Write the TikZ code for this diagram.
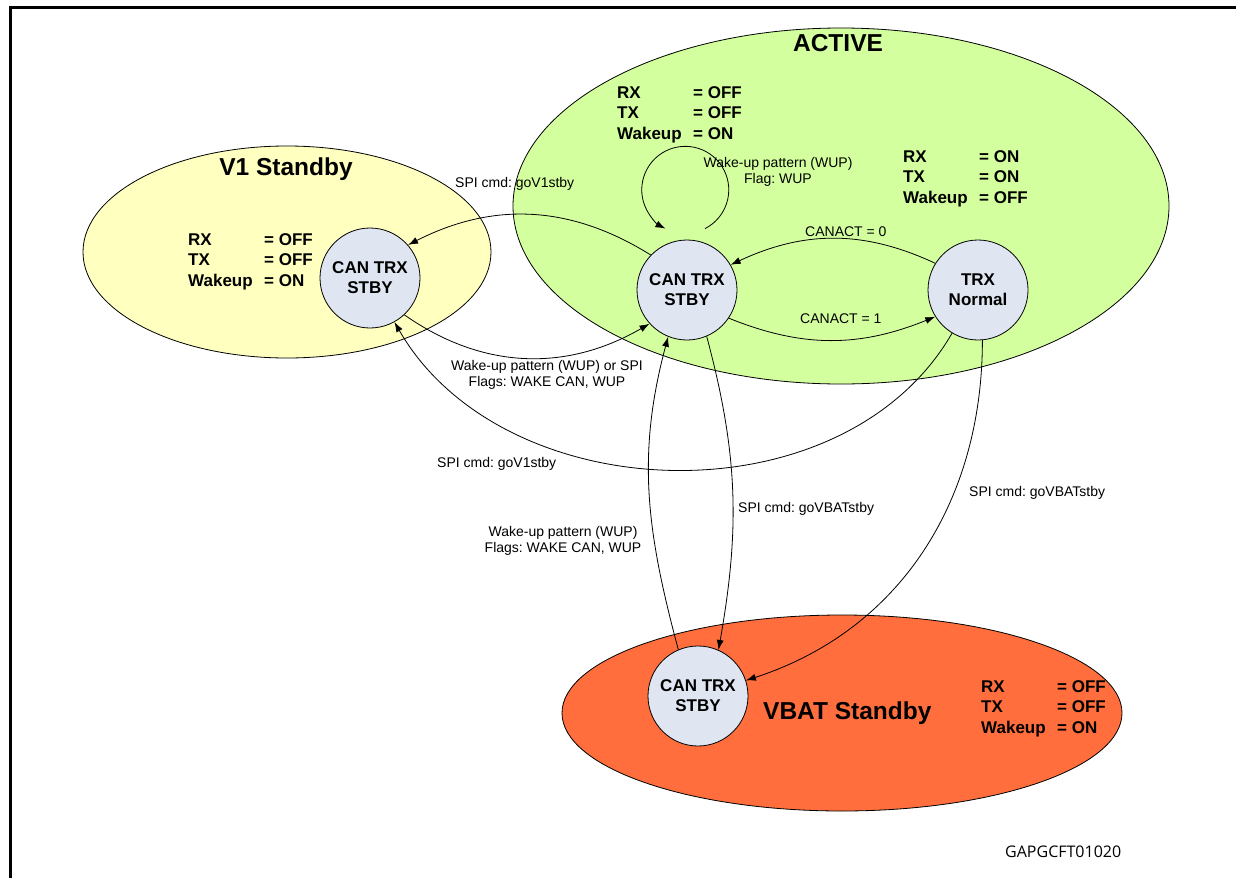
\documentclass[tikz,border=0pt]{standalone}
\usepackage{fontspec}
\setmainfont{Liberation Sans}
\newfontfamily\tagfont{Open Sans}
\usepackage{tikz}
\usetikzlibrary{arrows.meta}
\frenchspacing

\definecolor{activegreen}{RGB}{212,255,158}
\definecolor{v1yellow}{RGB}{255,255,192}
\definecolor{vbatorange}{RGB}{255,110,60}
\definecolor{stbyblue}{RGB}{224,230,241}

% RX / TX / Wakeup table of a mode
\newcommand{\modetab}[3]{\makebox[76pt][l]{RX}= #1\\\makebox[76pt][l]{TX}= #2\\\makebox[76pt][l]{Wakeup}= #3}

\begin{document}
\begin{tikzpicture}[x=1pt, y=1pt,
		state/.style={circle, draw, line width=0.8pt, fill=stbyblue, minimum size=100pt, inner sep=0pt, align=center, font=\bfseries\fontsize{17}{20}\selectfont},
		trans/.style={line width=0.8pt, -{Latex[length=10pt,width=7pt]}},
		lbl/.style={font=\fontsize{14}{16.5}\selectfont, anchor=base, align=center, inner sep=0pt},
		tab/.style={font=\bfseries\fontsize{17}{20.5}\selectfont, anchor=base west, align=left, inner sep=0pt},
		mode/.style={font=\bfseries\fontsize{24.5}{28}\selectfont, anchor=base, inner sep=0pt}]
				\useasboundingbox (0,0) rectangle (1236,-878);
				\draw [line width=3pt] (10,-878) -- (10,-7) -- (1236,-7);
				% modes
				\draw [line width=0.8pt, fill=activegreen] (841,-206) ellipse [x radius=328pt, y radius=178pt];
				\draw [line width=0.8pt, fill=v1yellow] (287,-252) ellipse [x radius=204pt, y radius=106pt];
				\draw [line width=0.8pt, fill=vbatorange] (842,-713) ellipse [x radius=280pt, y radius=98pt];
				\node [mode] (actname) at (838,-51) {ACTIVE};
				\node [mode] (v1name) at (286,-175) {V1 Standby};
				\node [mode, anchor=base west] (vbname) at (763,-719) {VBAT Standby};
				% base of a table = its last row
				\node [tab] (actab1) at (617,-139) {\modetab{OFF}{OFF}{ON}};
				\node [tab] (actab2) at (903,-203) {\modetab{ON}{ON}{OFF}};
				\node [tab] (v1tab) at (188,-286) {\modetab{OFF}{OFF}{ON}};
				\node [tab] (vbtab) at (981,-733) {\modetab{OFF}{OFF}{ON}};
				% states
				\node [state] (v1s) at (370,-278) {CAN TRX\\STBY};
				\node [state] (acs) at (687,-290) {CAN TRX\\STBY};
				\node [state] (trx) at (978,-290) {TRX\\Normal};
				\node [state] (vbs) at (698,-696) {CAN TRX\\STBY};
				% transitions
				\draw [trans] ([xshift=18pt,yshift=11pt]acs.north) arc [start angle=-63, end angle=243, radius=43.5pt];
				\draw [trans] (acs.136) to [out=148, in=27] (v1s.41);
				\draw [trans] (v1s.-47) to [out=-35, in=210] (acs.222);
				\draw [trans] (trx.148) to [out=155, in=25] (acs.30);
				\draw [trans] (acs.-34) to [out=-22, in=202] (trx.212);
				\draw [trans] (trx.-121) to [out=-120, in=-60] (v1s.-61);
				\draw [trans] (acs.-67) to [out=-75, in=80] (vbs.66);
				\draw [trans] (vbs.113) to [out=105, in=255] (acs.248);
				\draw [trans] (trx.-85) to [out=-90, in=18] (vbs.18);
				% labels
				\node [lbl] (wuploop) at (778,-183.5) {Wake-up pattern (WUP)\\Flag: WUP};
				\node [lbl, anchor=base west] (spiv1a) at (455,-187) {SPI cmd: goV1stby};
				\node [lbl, anchor=base west] (act0) at (805,-236) {CANACT = 0};
				\node [lbl, anchor=base west] (act1) at (800,-323) {CANACT = 1};
				\node [lbl] (wupspi) at (547,-386.5) {Wake-up pattern (WUP) or SPI\\Flags: WAKE CAN, WUP};
				\node [lbl, anchor=base west] (spiv1b) at (437,-467) {SPI cmd: goV1stby};
				\node [lbl, anchor=base west] (spivba) at (738,-512) {SPI cmd: goVBATstby};
				\node [lbl, anchor=base west] (spivbb) at (969,-496) {SPI cmd: goVBATstby};
				\node [lbl] (wupvb) at (563,-552.5) {Wake-up pattern (WUP)\\Flags: WAKE CAN, WUP};
				\node [font=\tagfont\fontsize{16}{19}\selectfont, anchor=base west, inner sep=0pt] (figtag) at (1005,-857) {GAPGCFT01020};
			\end{tikzpicture}
\end{document}
